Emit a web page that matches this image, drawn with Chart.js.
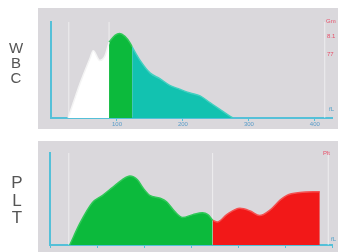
<!DOCTYPE html>
<html>
<head>
<meta charset="utf-8">
<script src="https://cdn.jsdelivr.net/npm/chart.js@4.4.1/dist/chart.umd.min.js"></script>
<style>
  html, body { margin: 0; padding: 0; background: #fff; }
  #wrap { position: relative; width: 342px; height: 252px; overflow: hidden; font-family: "Liberation Sans", Arial, sans-serif; }
  .box { position: absolute; left: 0; width: 342px; }
  .ltr { position: absolute; width: 20px; text-align: center; color: #555; line-height: 1; }
  .tag { position: absolute; font-size: 6px; line-height: 1; color: #e8506a; }
  .unit { position: absolute; font-size: 6px; line-height: 1; color: #4a9fc8; }
</style>
</head>
<body>
<div id="wrap">
  <div class="box" style="top:0;height:130px"><canvas id="wbcChart" width="342" height="130"></canvas></div>
  <div class="box" style="top:130px;height:122px"><canvas id="pltChart" width="342" height="122"></canvas></div>

  <span class="ltr" style="left:6px;top:40px;font-size:15px">W</span>
  <span class="ltr" style="left:6px;top:55px;font-size:15px">B</span>
  <span class="ltr" style="left:6px;top:70px;font-size:15px">C</span>
  <span class="ltr" style="left:7px;top:174px;font-size:17px">P</span>
  <span class="ltr" style="left:7px;top:192px;font-size:17px">L</span>
  <span class="ltr" style="left:7px;top:209px;font-size:17px">T</span>

  <span class="tag" style="left:326px;top:18px">Gm</span>
  <span class="tag" style="left:327px;top:33px">8.1</span>
  <span class="tag" style="left:327px;top:51px">77</span>
  <span class="tag" style="left:323px;top:150px">Plt</span>
  <span class="unit" style="left:329px;top:106px">fL</span>
  <span class="unit" style="left:331px;top:236px">fL</span>
</div>

<script>
// WBC histogram (cell volume in fL, relative count)
const wbcSize  = [26, 44, 59, 64, 74, 82, 88, 97, 104, 112, 120, 123, 135, 150, 165, 180, 195, 211, 226, 241, 256, 271, 276];
const wbcCount = [0, 36, 62, 70, 60, 65, 79, 86, 88, 85, 78, 74, 60, 47, 41, 34, 30, 26, 23, 16, 9, 2, 0];
const wbcCuts  = [88, 123];          // lymph | mid | gran
const wbcMarks = [27, 88, 415];      // discriminator lines
const wbcTicks = [100, 200, 300, 400];

// PLT histogram
const pltSize  = [2.1, 3.2, 4.5, 5.6, 6.7, 7.7, 8.5, 9.3, 9.9, 10.6, 11.7, 12.4, 13.3, 14.1, 15.2, 16.2, 16.8, 17.3, 17.8, 18.8, 20.2, 21.3, 22.3, 23.4, 24.5, 25.2, 26.6, 28.7];
const pltCount = [0, 24, 46, 54, 63, 71, 75, 71, 62, 54, 51, 47, 36, 30, 33, 35, 33, 27, 25, 33, 40, 37, 32, 38, 49, 54, 57, 58];
const pltCut   = 17.3;
const pltMarks = [2.0, 17.3, 29.6];

const AXIS = "#55c0d8";
const PANEL = "#dad8dc";

function seg(xs, ys, lo, hi) {
    const out = [];
    xs.forEach((x, i) => { if (x >= lo && x <= hi) out.push({ x: x, y: ys[i] }); });
    return out;
}

function area(points, color, edge) {
    return {
        data: points,
        borderColor: edge,
        backgroundColor: color,
        borderWidth: 1.5,
        fill: "origin",
        pointRadius: 0,
        cubicInterpolationMode: "monotone",
        order: 1,
    };
}

function marks(list) {
    return list.map((m) => ({
        data: [{ x: m, y: 0 }, { x: m, y: 100 }],
        borderColor: "rgba(255,255,255,0.55)",
        borderWidth: 1,
        fill: false,
        pointRadius: 0,
        order: 5,
    }));
}

function panelPlugin(top, height) {
    return {
        id: "panel",
        beforeDraw(chart) {
            const c = chart.ctx;
            c.save();
            c.fillStyle = PANEL;
            c.fillRect(38, top, 300, height);
            c.restore();
        },
    };
}

function baseOptions(xMax, pad, xHeight, tickList) {
    return {
        responsive: false,
        animation: false,
        layout: { padding: pad },
        plugins: { legend: { display: false }, tooltip: { enabled: false } },
        scales: {
            x: {
                type: "linear",
                min: 0,
                max: xMax,
                border: { color: AXIS, width: 2 },
                grid: { drawOnChartArea: false, color: AXIS, tickLength: 3 },
                ticks: {
                    display: tickList.length > 0,
                    color: "#5a9cc8",
                    font: { size: 6 },
                    padding: 0,
                    maxRotation: 0,
                },
                afterBuildTicks(s) { if (tickList.length) s.ticks = tickList.map((v) => ({ value: v })); },
                afterFit(s) { s.height = xHeight; },
            },
            y: {
                min: 0,
                max: 100,
                border: { color: AXIS, width: 2 },
                grid: { display: false },
                ticks: { display: false },
                afterFit(s) { s.width = 0; },
            },
        },
    };
}

new Chart(document.getElementById("wbcChart").getContext("2d"), {
    type: "line",
    data: {
        datasets: [
            area(seg(wbcSize, wbcCount, 0, wbcCuts[0]), "#ffffff", "#f4f4f4"),
            area(seg(wbcSize, wbcCount, wbcCuts[0], wbcCuts[1]), "#0cba3c", "#30c858"),
            area(seg(wbcSize, wbcCount, wbcCuts[1], 999), "#12c2b0", "#40d0c0"),
            ...marks(wbcMarks),
        ],
    },
    options: baseOptions(426, { left: 51, right: 10, top: 22, bottom: 2 }, 10, wbcTicks),
    plugins: [panelPlugin(8, 121)],
});

new Chart(document.getElementById("pltChart").getContext("2d"), {
    type: "line",
    data: {
        datasets: [
            area(seg(pltSize, pltCount, 0, pltCut), "#0cba3c", "#30c858"),
            area(seg(pltSize, pltCount, pltCut, 999), "#f21818", "#f45050"),
            ...marks(pltMarks),
        ],
    },
    options: baseOptions(30, { left: 50, right: 10, top: 23, bottom: 0 }, 7, []),
    plugins: [panelPlugin(11, 111)],
});
</script>
</body>
</html>
